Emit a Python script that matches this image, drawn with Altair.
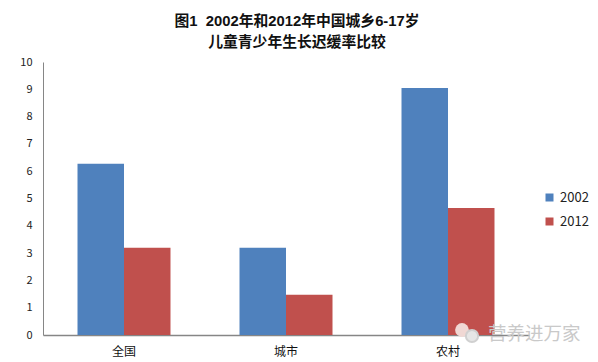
import altair as alt
import pandas as pd

categories = ["全国", "城市", "农村"]
years = ["2002", "2012"]
values_2002 = [6.27, 3.2, 9.05]
values_2012 = [3.2, 1.47, 4.65]
title_lines = ["图1\u00a0\u00a02002年和2012年中国城乡6-17岁", "儿童青少年生长迟缓率比较"]
watermark = "营养进万家"

FONT = "Noto Sans CJK SC"
df = pd.DataFrame(
    [{"cat": c, "year": years[0], "v": v} for c, v in zip(categories, values_2002)]
    + [{"cat": c, "year": years[1], "v": v} for c, v in zip(categories, values_2012)]
)

bars = alt.Chart(df).mark_bar().encode(
    x=alt.X("cat:N", sort=categories, title=None,
            scale=alt.Scale(paddingInner=0.426, paddingOuter=0.213),
            axis=alt.Axis(labelAngle=0, labelFont=FONT, labelFontSize=12, labelColor="#111111",
                          ticks=False, domainColor="#868686", domainWidth=1.5, labelPadding=11)),
    xOffset=alt.XOffset("year:N", sort=years, scale=alt.Scale(paddingInner=0, paddingOuter=0)),
    y=alt.Y("v:Q", title=None, scale=alt.Scale(domain=[0, 10]),
            axis=alt.Axis(values=list(range(11)), grid=False, ticks=False, labelFont=FONT,
                          labelFontSize=11, labelColor="#222222", domainColor="#868686",
                          domainWidth=1, labelPadding=11)),
    color=alt.Color("year:N", sort=years,
                    scale=alt.Scale(domain=years, range=["#4f81bd", "#c0504d"]),
                    legend=alt.Legend(title=None, orient="none", legendX=500, legendY=129,
                                      labelFont=FONT, labelFontSize=13, labelColor="#222222",
                                      symbolType="square", symbolSize=64, symbolStrokeWidth=0,
                                      rowPadding=10, labelOffset=4)),
)

mark_df = pd.DataFrame({"t": [watermark]})
wm_text = alt.Chart(mark_df).mark_text(font=FONT, fontSize=18.5, color="#c9c9c9", align="left", baseline="middle").encode(
    text="t:N", x=alt.value(445), y=alt.value(272))
wm_a = alt.Chart(mark_df).mark_point(filled=True, size=190, color="#f0d8d4", opacity=1).encode(
    x=alt.value(419), y=alt.value(268))
wm_b = alt.Chart(mark_df).mark_point(filled=True, size=150, color="#e6e6e6", stroke="#d0d0d0", opacity=1).encode(
    x=alt.value(429), y=alt.value(274))

chart = alt.layer(bars, wm_a, wm_b, wm_text).properties(
    width=486, height=273,
    padding={"left": 35, "top": 54, "right": 61, "bottom": 27},
    autosize=alt.AutoSizeParams(type="none"),
    title=alt.TitleParams(text=title_lines, anchor="middle", frame="group", dx=11, offset=6,
                          font="Liberation Sans, Noto Sans CJK SC", fontSize=14.8, fontWeight="bold",
                          color="#111111", lineHeight=21),
    background="white",
).configure_view(stroke=None)

chart.save("out.html", embed_options={"renderer": "svg", "actions": False})
